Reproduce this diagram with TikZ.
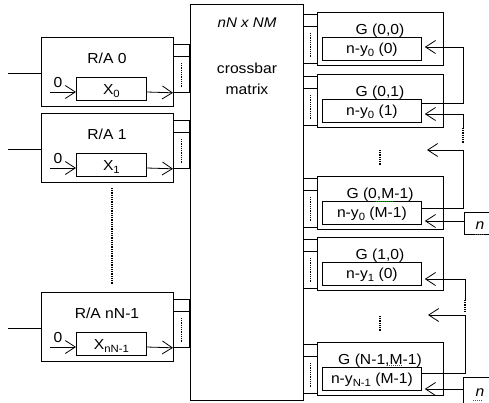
\documentclass[tikz,border=0pt]{standalone}
\usepackage{fontspec}
\setmainfont[FakeStretch=1.08]{Liberation Sans}
\usetikzlibrary{arrows.meta}
\newcommand{\lowsub}[1]{\raisebox{-2.2pt}{\fontsize{10.5}{12}\selectfont #1}}
\begin{document}
\begin{tikzpicture}[x=1pt,y=-1pt,
  every node/.style={font=\fontsize{14.5}{16}\selectfont, inner sep=0pt},
  box/.style={draw, line width=0.8pt, anchor=north west, inner sep=0pt},
  ln/.style={line width=0.8pt},
  arr/.style={ln, -{Straight Barb[length=10pt,width=13pt]}},
  dots/.style={line width=1.1pt, dash pattern=on 0.9pt off 0.9pt},
  spell/.style={green!55!black, line width=0.9pt, dash pattern=on 1pt off 1pt}]
\clip (0,0) rectangle (489,402);
\fill[white] (0,0) rectangle (489,402);

% crossbar
\node[box, minimum width=113pt, minimum height=396pt] (xb) at (190,4) {};
\node[anchor=base, font=\fontsize{14}{16}\selectfont\itshape] (xbt) at (247,27) {nN x NM};
\node[anchor=base] (xbc) at (247,73) {crossbar};
\node[anchor=base] (xbm) at (247,94) {matrix};

% R/A blocks
\foreach \t/\lab/\sub/\nm in {37/0/0/a, 113/1/1/b, 292/nN-1/nN-1/c}{
  \node[box, minimum width=132pt, minimum height=69pt] (ra\nm) at (41,\t) {};
  \node[anchor=base] (rat\nm) at (107,{\t+26}) {R/A \lab};
  \node[box, minimum width=16pt, minimum height=12pt] (pa\nm) at (173,{\t+7}) {};
  \node[box, minimum width=16pt, minimum height=36pt] (pb\nm) at (173,{\t+19}) {};
  \draw[dots] ([yshift=-7pt]pb\nm.north) -- ([yshift=5pt]pb\nm.south);
  \coordinate (in\nm) at (8,{\t+36});
  \draw[ln] (in\nm) -- (ra\nm.west |- in\nm);
  \node[box, minimum width=70pt, minimum height=23pt] (x\nm) at (76,{\t+40}) {};
  \node[anchor=base] (xt\nm) at ([yshift=-6pt]x\nm.center) {X\lowsub{\sub}};
  \coordinate (as\nm) at (50,{\t+55});
  \draw[arr] (as\nm) -- (x\nm.west |- as\nm);
  \draw[arr] (x\nm.east |- as\nm) -- (pb\nm.south west);
  \node[anchor=base] (z\nm) at (58,{\t+50}) {0};
}
\draw[dots] (112,188) -- (112,285);

% G blocks
\foreach \t/\lab/\ylab/\nm in {12/{G (0,0)}/{n-y\lowsub{0} (0)}/a,
    74/{G (0,1)}/{n-y\lowsub{0} (1)}/b,
    176/{G (0,M-1)}/{n-y\lowsub{0} (M-1)}/c,
    237/{G (1,0)}/{n-y\lowsub{1} (0)}/d,
    342/{G (N-1,M-1)}/{n-y\lowsub{N-1} (M-1)}/e}{
  \node[box, minimum width=126pt, minimum height=53pt] (g\nm) at (317,\t) {};
  \node[anchor=base] (gt\nm) at (380,{\t+22}) {\lab};
  \node[box, minimum width=14pt, minimum height=12pt] (qa\nm) at (303,{\t+2}) {};
  \node[box, minimum width=14pt, minimum height=37pt] (qb\nm) at (303,{\t+14}) {};
  \draw[dots] ([yshift=-7pt]qb\nm.north) -- ([yshift=7pt]qb\nm.south);
  \node[box, minimum width=99pt, minimum height=23pt] (y\nm) at (322,{\t+25}) {};
  \node[anchor=base] (yt\nm) at ([yshift=-5pt]y\nm.center) {\ylab};
}
\draw[dots] (380,150) -- (380,165);
\draw[dots] (380,316) -- (380,332);

% feedback, upper group
\coordinate (fa) at (463,47);
\coordinate (fb) at (463,114);
\coordinate (fbd) at (463,128);
\coordinate (fbe) at (463,143);
\coordinate (fc) at (463,150);
\coordinate (fct) at (427,150);
\draw[arr, shorten >=3pt] (yb.east |- 0,103) -- (463,103) -- (fa) -- (ya.east |- fa);
\draw[arr, shorten >=3pt] (fbd) -- (fb) -- (yb.east |- fb);
\draw[dots] (fbd) -- (fbe);
\draw[arr] (yc.east |- 0,208) -- (463,208) -- (fc) -- (fct);
\node[draw, line width=0.8pt, anchor=north west, minimum width=40pt, minimum height=22pt] (na) at (464,212) {};
\node[anchor=base] (nat) at (480,229) {\textit{n}};
\draw[arr, shorten >=3pt] (na.west |- 0,221) -- (yc.east |- 0,221);

% feedback, lower group
\coordinate (fd) at (465,279);
\coordinate (fdd) at (465,300);
\coordinate (fde) at (465,312);
\coordinate (fe) at (465,315);
\coordinate (fet) at (428,315);
\draw[arr, shorten >=3pt] (fdd) -- (fd) -- (yd.east |- fd);
\draw[dots] (fdd) -- (fde);
\draw[arr] (ye.east |- 0,373) -- (465,373) -- (fe) -- (fet);
\node[draw, line width=0.8pt, anchor=north west, minimum width=40pt, minimum height=40pt] (nb) at (463,377) {};
\node[anchor=base] (nbt) at (480,396) {\textit{n}};
\draw[arr, shorten >=3pt] (nb.west |- 0,389) -- (ye.east |- 0,389);

% spell-check marks
\draw[spell] (376,201) -- (393,201);
\draw[spell] (475,234) -- (485,234);
\draw[spell] (387,365) -- (402,365);
\draw[spell] (473,400) -- (483,400);
\end{tikzpicture}
\end{document}
